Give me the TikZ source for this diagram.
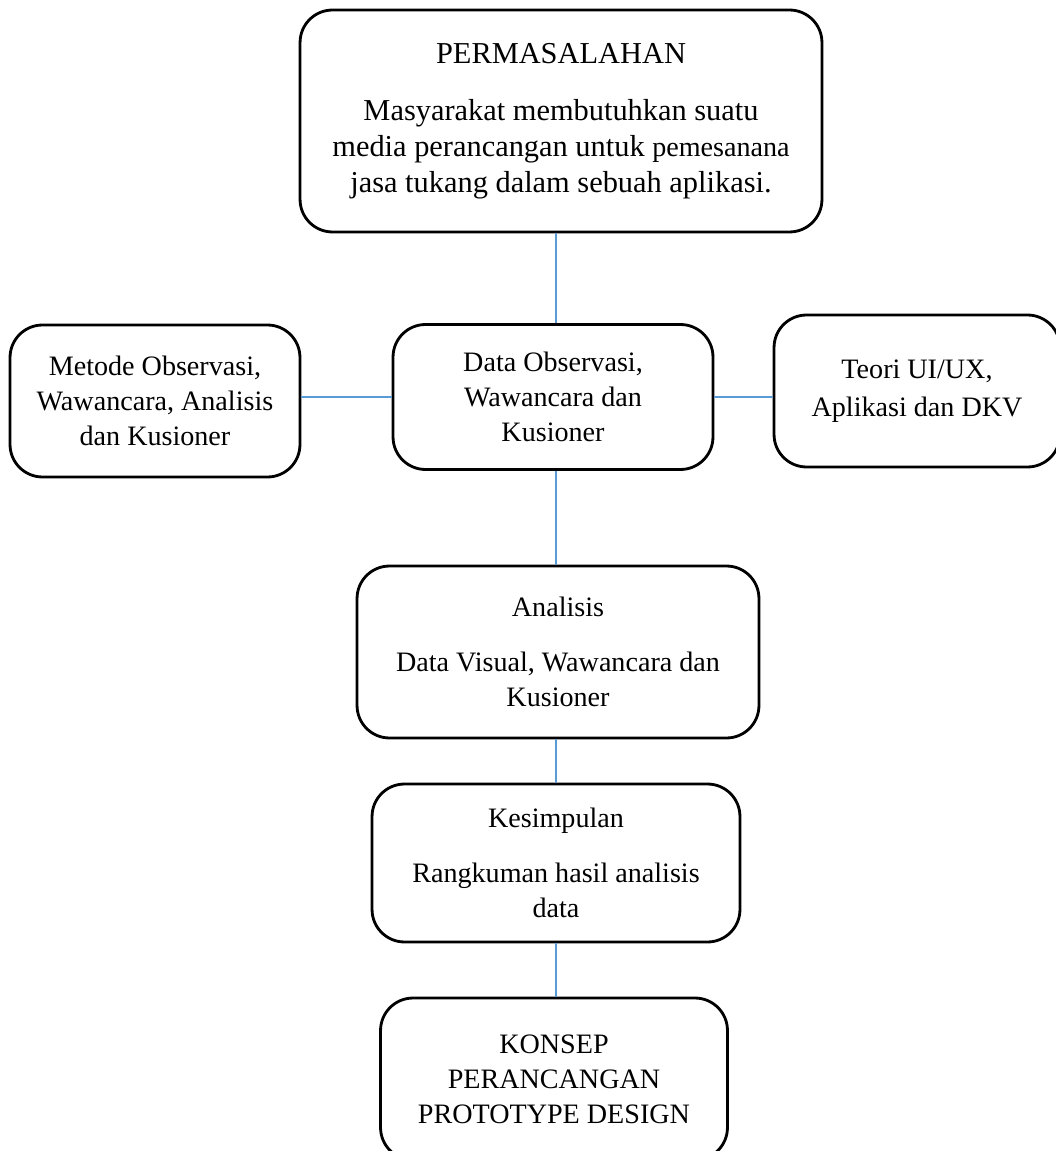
\documentclass[tikz,border=0pt]{standalone}
\usepackage{fontspec}
\setmainfont{Liberation Serif}
\usetikzlibrary{positioning}
\definecolor{cline}{HTML}{5B9BD5}
\tikzset{
  every picture/.style={font=\fontsize{16}{20}\selectfont},
  box/.style={draw, line width=1.6pt, rounded corners=0.65cm, align=center, inner sep=0pt},
  link/.style={draw=cline, line width=0.7pt},
}
\begin{document}
\begin{tikzpicture}[x=0.02cm, y=-0.02cm]
  \useasboundingbox (0,0) rectangle (1055,1151);
  % masalah
  \node[box, minimum width=10.44cm, minimum height=4.44cm, font=\fontsize{17.3}{20.5}\selectfont] (prob) at (561,121)
    {PERMASALAHAN\\[0.42cm]Masyarakat membutuhkan suatu\\media perancangan untuk {\fontsize{16}{20.5}\selectfont pemesanana}\\jasa tukang dalam sebuah aplikasi.};
  % baris tengah
  \node[box, minimum width=5.8cm, minimum height=3.04cm] (metode) at (155,401)
    {Metode Observasi,\\Wawancara, Analisis\\dan Kusioner};
  \node[box, minimum width=6.4cm, minimum height=2.9cm] (data) at (553,397)
    {Data Observasi,\\Wawancara dan\\Kusioner};
  \node[box, minimum width=5.72cm, minimum height=3.04cm] (teori) at (917,391)
    {Teori UI/UX,\\[0.05cm]Aplikasi dan DKV};
  % analisis sampai konsep
  \node[box, minimum width=8.04cm, minimum height=3.44cm] (analisis) at (558,652)
    {Analisis\\[0.4cm]Data Visual, Wawancara dan\\Kusioner};
  \node[box, minimum width=7.36cm, minimum height=3.16cm] (simpul) at (556,863)
    {Kesimpulan\\[0.4cm]Rangkuman hasil analisis\\data};
  \node[box, minimum width=6.94cm, minimum height=3.24cm] (konsep) at (554,1079)
    {KONSEP\\PERANCANGAN\\PROTOTYPE DESIGN};
  % garis
  \draw[link] (prob.south -| simpul) -- (data.north -| simpul);
  \draw[link] (data.west) -- (data.west -| metode.east);
  \draw[link] (data.east) -- (data.east -| teori.west);
  \draw[link] (data.south -| simpul) -- (analisis.north -| simpul);
  \draw[link] (analisis.south -| simpul) -- (simpul);
  \draw[link] (simpul) -- (simpul |- konsep.north);
\end{tikzpicture}
\end{document}
